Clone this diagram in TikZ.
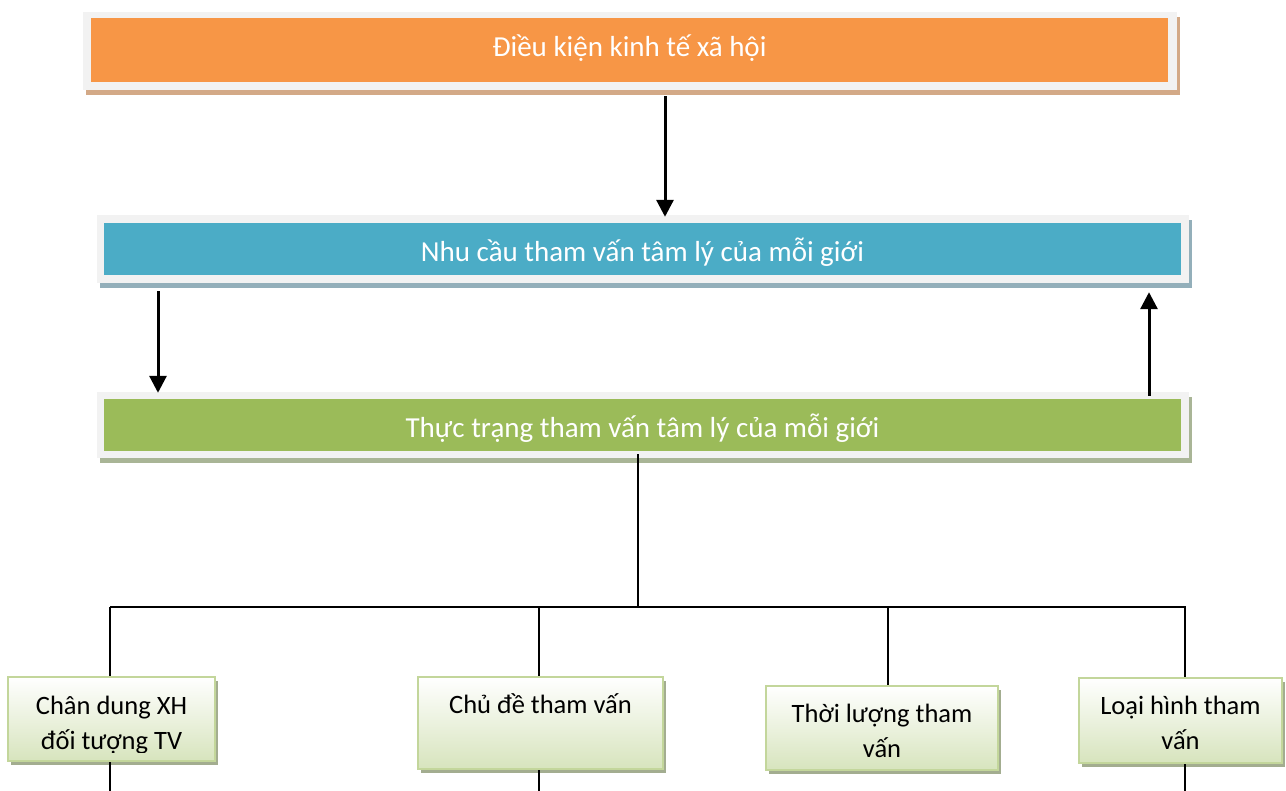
\documentclass[tikz,border=0pt]{standalone}
\usepackage{fontspec}
\setmainfont{Carlito}
\usetikzlibrary{arrows.meta}
\definecolor{orangeF}{HTML}{F79646}
\definecolor{blueF}{HTML}{4BACC6}
\definecolor{greenF}{HTML}{9BBB59}
\definecolor{frameF}{HTML}{F2F2F2}
\definecolor{shadowO}{HTML}{D3A987}
\definecolor{shadowB}{HTML}{93AFBA}
\definecolor{shadowG}{HTML}{A9B596}
\definecolor{boxBot}{HTML}{D7E4BD}
\definecolor{boxEdge}{HTML}{C3D69B}
\definecolor{boxShadow}{HTML}{A3AD90}
\begin{document}
\begin{tikzpicture}[x=1pt,y=-1pt,
  frm/.style={fill=frameF, draw=none, inner sep=0pt},
  band/.style={fill=#1, draw=none, inner sep=0pt},
  shd/.style={fill=#1, draw=none, inner sep=0pt},
  bandtext/.style={text=white, font=\fontsize{29}{34}\selectfont, inner sep=0pt, anchor=base},
  leaf/.style={top color=white, bottom color=boxBot, draw=boxEdge, line width=2pt, inner sep=0pt},
  leaftext/.style={text=black, font=\fontsize{26.5}{34}\selectfont, inner sep=0pt, anchor=base},
  arr/.style={line width=3pt, -{Triangle[width=17pt,length=17pt]}},
  ln/.style={line width=2pt, line cap=butt}
]
\useasboundingbox (0,0) rectangle (1286,791);
\fill[white] (0,0) rectangle (1286,791);

% top box
\node[shd=shadowO, minimum width=1094pt, minimum height=78pt] (s1) at (633,56) {};
\node[frm, minimum width=1094pt, minimum height=78pt] (f1) at (630,51) {};
\node[band=orangeF, minimum width=1077pt, minimum height=64pt] (i1) at (629.5,50) {};
\node[bandtext] (t1) at (629.5,57) {Điều kiện kinh tế xã hội};

% middle box
\node[shd=shadowB, minimum width=1092pt, minimum height=68pt] (s2) at (646,254) {};
\node[frm, minimum width=1092pt, minimum height=68pt] (f2) at (643,249) {};
\node[band=blueF, minimum width=1077pt, minimum height=52pt] (i2) at (642.5,249) {};
\node[bandtext] (t2) at (642.5,262) {Nhu cầu tham vấn tâm lý của mỗi giới};

% lower box
\node[shd=shadowG, minimum width=1092pt, minimum height=66pt] (s3) at (646,430) {};
\node[frm, minimum width=1092pt, minimum height=66pt] (f3) at (643,425) {};
\node[band=greenF, minimum width=1077pt, minimum height=52pt] (i3) at (642.5,425) {};
\node[bandtext] (t3) at (642.5,438) {Thực trạng tham vấn tâm lý của mỗi giới};

% arrows
\coordinate (ax1) at (665,0);
\coordinate (ax2) at (158,0);
\coordinate (ax3) at (1149,0);
\draw[arr] ([yshift=-6pt]f1.south -| ax1) -- ([yshift=-2pt]f2.north -| ax1);
\draw[arr] ([yshift=-8pt]f2.south -| ax2) -- ([yshift=-1pt]f3.north -| ax2);
\draw[arr] ([yshift=-4pt]f3.north -| ax3) -- ([yshift=-9pt]f2.south -| ax3);

% leaf boxes
\node[shd=boxShadow, minimum width=207pt, minimum height=84pt] (sb1) at (114.5,723) {};
\node[leaf, minimum width=207pt, minimum height=84pt] (b1) at (111.5,719) {};
\node[shd=boxShadow, minimum width=245pt, minimum height=92pt] (sb2) at (543.5,727) {};
\node[leaf, minimum width=245pt, minimum height=92pt] (b2) at (540.5,723) {};
\node[shd=boxShadow, minimum width=232pt, minimum height=84pt] (sb3) at (885,732) {};
\node[leaf, minimum width=232pt, minimum height=84pt] (b3) at (882,728) {};
\node[shd=boxShadow, minimum width=203pt, minimum height=85pt] (sb4) at (1183.5,724.5) {};
\node[leaf, minimum width=203pt, minimum height=85pt] (b4) at (1180.5,720.5) {};

\begin{scope}
\clip (b1.north west) rectangle ([yshift=10pt]b1.south east);
\node[leaftext] (b1a) at ([yshift=-38pt]b1.north) {Chân dung XH};
\node[leaftext] (b1b) at ([yshift=-73pt]b1.north) {đối tượng TV};
\end{scope}
\node[leaftext] (b2a) at ([yshift=-37pt]b2.north) {Chủ đề tham vấn};
\begin{scope}
\clip (b3.north west) rectangle ([yshift=10pt]b3.south east);
\node[leaftext] (b3a) at ([yshift=-37pt]b3.north) {Thời lượng tham};
\node[leaftext] (b3b) at ([yshift=-72pt]b3.north) {vấn};
\end{scope}
\begin{scope}
\clip (b4.north west) rectangle ([yshift=10pt]b4.south east);
\node[leaftext] (b4a) at ([yshift=-37pt]b4.north) {Loại hình tham};
\node[leaftext] (b4b) at ([yshift=-72pt]b4.north) {vấn};
\end{scope}

% tree connectors
\coordinate (hub) at (638,607);
\coordinate (hl) at (110,607);
\coordinate (hr) at (1186,607);
\coordinate (x1) at (110,0);
\coordinate (x2) at (539,0);
\coordinate (x3) at (888,0);
\coordinate (x4) at (1185,0);
\coordinate (bot) at (0,791);
\draw[ln] ([yshift=4pt]f3.south -| hub) -- (hub);
\draw[ln] (hl) -- (hr);
\draw[ln] (hl) -- (b1.north -| x1);
\draw[ln] (hub -| x2) -- (b2.north -| x2);
\draw[ln] (hub -| x3) -- (b3.north -| x3);
\draw[ln] (hub -| x4) -- (b4.north -| x4);
\draw[ln] (b1.south -| x1) -- (bot -| x1);
\draw[ln] (b2.south -| x2) -- (bot -| x2);
\draw[ln] (b4.south -| x4) -- (bot -| x4);
\end{tikzpicture}
\end{document}
